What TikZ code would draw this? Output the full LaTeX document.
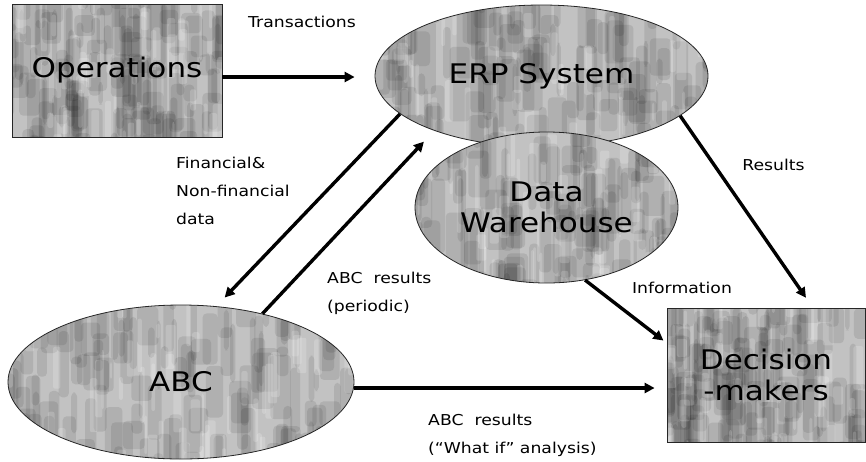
\documentclass[tikz,border=0pt]{standalone}
\usepackage{fontspec}
\setmainfont{DejaVu Sans}[FakeStretch=1.15]
\usetikzlibrary{shapes.geometric,arrows.meta}
\newcommand\mottleArea[4]{% x0, y0, width, height (y downwards)
  \fill[black!24] (#1,#2) rectangle ++(#3,#4);
  \foreach \i in {1,...,170}{
    \pgfmathsetmacro\px{#1+rnd*(#3+10)-14}
    \pgfmathsetmacro\py{#2+rnd*(#4+40)-30}
    \pgfmathsetmacro\w{4+rnd*18}
    \pgfmathsetmacro\h{20+rnd*55}
    \fill[black,opacity=.09,rounded corners=4pt] (\px,\py) rectangle ++(\w,\h);
  }
  \foreach \i in {1,...,60}{
    \pgfmathsetmacro\px{#1+rnd*(#3+6)-8}
    \pgfmathsetmacro\py{#2+rnd*(#4+30)-20}
    \pgfmathsetmacro\w{2+rnd*9}
    \pgfmathsetmacro\h{15+rnd*45}
    \fill[white,opacity=.18,rounded corners=2pt] (\px,\py) rectangle ++(\w,\h);
  }}
\begin{document}
\begin{tikzpicture}[x=1pt,y=-1pt,
  shapebase/.style={draw=black!85,line width=0.8pt,inner sep=0pt,
    font=\fontsize{27}{31}\selectfont,align=center},
  boxnode/.style={shapebase,rectangle},
  ovalnode/.style={shapebase,ellipse},
  lbl/.style={font=\fontsize{15}{28}\selectfont,inner sep=0pt,align=left},
  flow/.style={line width=3.4pt,-{Triangle[length=10pt,width=10pt]}}
]
\pgfmathsetseed{11}
\useasboundingbox[fill=white] (0,0) rectangle (866,461);

% shapes (textured fill, then outlined node with text)
\begin{scope}\clip (12,4) rectangle (222,137); \mottleArea{12}{4}{210}{133} \end{scope}
\node[boxnode,minimum width=210pt,minimum height=133pt] (ops) at (117,70.5) {Operations};

\begin{scope}\clip (541.5,76) ellipse [x radius=166.5pt,y radius=71pt]; \mottleArea{375}{5}{333}{142} \end{scope}
\node[ovalnode,minimum width=333pt,minimum height=142pt] (erp) at (541.5,76) {ERP System};

\begin{scope}\clip (546.5,207.5) ellipse [x radius=131.5pt,y radius=75.5pt]; \mottleArea{415}{132}{263}{151} \end{scope}
\node[ovalnode,minimum width=263pt,minimum height=151pt] (dw) at (546.5,207.5) {Data\\Warehouse};

\begin{scope}\clip (181,382) ellipse [x radius=173pt,y radius=77pt]; \mottleArea{8}{305}{346}{154} \end{scope}
\node[ovalnode,minimum width=346pt,minimum height=154pt] (abc) at (181,382) {ABC};

\begin{scope}\clip (667,308) rectangle (865,442); \mottleArea{667}{308}{198}{134} \end{scope}
\node[boxnode,minimum width=198pt,minimum height=134pt] (dm) at (766,375) {Decision\\-makers};

% labels
\node[lbl] (tTrans) at (302,22) {Transactions};
\node[lbl,anchor=west] (tFin) at (176,190.5) {Financial\&\\Non-financial\\data};
\node[lbl,anchor=west] (tPer) at (327,293) {ABC\ \ results\\(periodic)};
\node[lbl] (tRes) at (773.5,165) {Results};
\node[lbl] (tInf) at (682,288) {Information};
\node[lbl,anchor=west] (tWhat) at (428,435) {ABC\ \ results\\(“What if” analysis)};

% connectors
\draw[flow,shorten >=20pt] ([yshift=-6.5pt]ops.east) -- ([yshift=-1pt]erp.west);
\draw[flow,shorten >=12pt] (erp.195.3) -- (abc.65);
\draw[flow,shorten >=15pt] (abc.40) -- (erp.207.4);
\draw[flow,shorten >=12pt] (erp.344.7) -- ([xshift=46.8pt]dm.north);
\draw[flow,shorten >=4pt] (dw.298) -- ([yshift=32pt]dm.west);
\draw[flow,shorten >=12pt] ([yshift=-6pt]abc.east) -- ([yshift=-13pt]dm.west);
\end{tikzpicture}
\end{document}
